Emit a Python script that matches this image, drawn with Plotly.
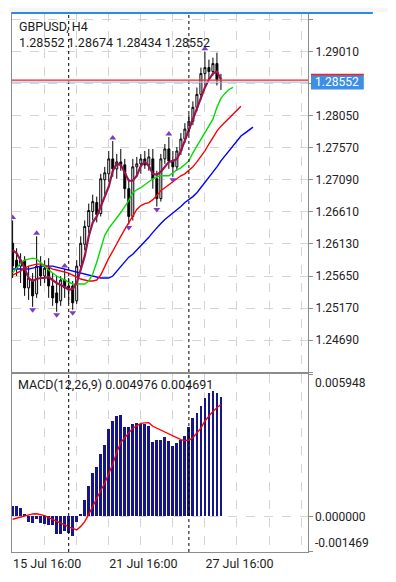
import plotly.graph_objects as go

# ---------------- data ----------------
symbol_title = "GBPUSD, H4"
bars = list(range(53))

opens = [1.26140, 1.25887, 1.25798, 1.25887, 1.25472, 1.25590, 1.25383, 1.25798, 1.25650, 1.25768,
         1.25501, 1.25397, 1.25279, 1.25590, 1.25472, 1.25501, 1.25279, 1.25798, 1.26125, 1.26392,
         1.26615, 1.26749, 1.26585, 1.27090, 1.27179, 1.27402, 1.27253, 1.27357, 1.27313, 1.26957,
         1.26541, 1.27283, 1.27328, 1.27402, 1.27313, 1.27402, 1.27105, 1.26808, 1.27402, 1.27551,
         1.27372, 1.27283, 1.27521, 1.27699, 1.27848, 1.27966, 1.28174, 1.28367, 1.28679, 1.28768,
         1.28709, 1.28828, 1.28552]
highs = [1.26481, 1.26066, 1.25991, 1.25947, 1.25798, 1.25694, 1.26244, 1.25947, 1.25887, 1.25917,
         1.25694, 1.25650, 1.25650, 1.25754, 1.25620, 1.25576, 1.25887, 1.26244, 1.26481, 1.26734,
         1.26867, 1.26838, 1.27179, 1.27283, 1.27521, 1.27669, 1.27476, 1.27551, 1.27402, 1.27105,
         1.27402, 1.27432, 1.27476, 1.27521, 1.27551, 1.27551, 1.27224, 1.27476, 1.27625, 1.27729,
         1.27521, 1.27580, 1.27788, 1.27937, 1.28070, 1.28263, 1.28471, 1.28768, 1.29006, 1.28887,
         1.28917, 1.28991, 1.28674]
lows = [1.25620, 1.25650, 1.25546, 1.25353, 1.25293, 1.25189, 1.25323, 1.25501, 1.25546, 1.25323,
        1.25204, 1.25115, 1.25204, 1.25323, 1.25234, 1.25145, 1.25234, 1.25740, 1.26036, 1.26288,
        1.26481, 1.26452, 1.26541, 1.26867, 1.27060, 1.27135, 1.27105, 1.27224, 1.26808, 1.26422,
        1.26481, 1.27135, 1.27179, 1.27253, 1.27224, 1.26957, 1.26689, 1.26763, 1.27328, 1.27253,
        1.27135, 1.27224, 1.27461, 1.27640, 1.27758, 1.27907, 1.28115, 1.28293, 1.28501, 1.28590,
        1.28649, 1.28501, 1.28434]
closes = [1.25798, 1.25768, 1.25887, 1.25472, 1.25620, 1.25353, 1.25798, 1.25650, 1.25768, 1.25501,
          1.25323, 1.25249, 1.25590, 1.25472, 1.25501, 1.25249, 1.25798, 1.26140, 1.26392, 1.26630,
          1.26763, 1.26570, 1.27105, 1.27194, 1.27402, 1.27253, 1.27357, 1.27313, 1.26957, 1.26541,
          1.27283, 1.27328, 1.27402, 1.27313, 1.27432, 1.27105, 1.26808, 1.27402, 1.27551, 1.27372,
          1.27283, 1.27521, 1.27699, 1.27848, 1.27966, 1.28174, 1.28367, 1.28679, 1.28768, 1.28709,
          1.28828, 1.28590, 1.28552]

# short moving average (maroon)
ma_fast = [1.26036, 1.25991, 1.25887, 1.25768, 1.25620, 1.25576, 1.25605, 1.25620, 1.25620, 1.25635,
           1.25590, 1.25546, 1.25516, 1.25486, 1.25442, 1.25457, 1.25546, 1.25740, 1.25947, 1.26244,
           1.26452, 1.26541, 1.26689, 1.26838, 1.26986, 1.27224, 1.27328, 1.27313, 1.27194, 1.27075,
           1.27075, 1.27150, 1.27298, 1.27357, 1.27298, 1.27179, 1.27165, 1.27209, 1.27283, 1.27357,
           1.27372, 1.27402, 1.27521, 1.27684, 1.27848, 1.27996, 1.28174, 1.28337, 1.28471, 1.28590,
           1.28679, 1.28709, 1.28590]
# Alligator lines (shifted forward)
lips_green = [1.25694, 1.25768, 1.25843, 1.25887, 1.25902, 1.25917, 1.25902, 1.25857, 1.25798, 1.25740,
              1.25694, 1.25650, 1.25620, 1.25590, 1.25561, 1.25531, 1.25531, 1.25531, 1.25531, 1.25576,
              1.25679, 1.25857, 1.26066, 1.26259, 1.26362, 1.26437, 1.26526, 1.26600, 1.26689, 1.26778,
              1.26897, 1.26941, 1.26971, 1.27016, 1.27060, 1.27105, 1.27135, 1.27150, 1.27150, 1.27150,
              1.27194, 1.27239, 1.27268, 1.27313, 1.27372, 1.27491, 1.27595, 1.27684, 1.27788, 1.27892,
              1.27996, 1.28174, 1.28308, 1.28382, 1.28441, 1.28471]
teeth_red = [1.25665, 1.25694, 1.25724, 1.25768, 1.25798, 1.25813, 1.25828, 1.25828, 1.25813, 1.25783,
             1.25754, 1.25740, 1.25724, 1.25709, 1.25694, 1.25665, 1.25635, 1.25605, 1.25590, 1.25576,
             1.25576, 1.25590, 1.25665, 1.25798, 1.25917, 1.26021, 1.26140, 1.26244, 1.26348, 1.26452,
             1.26556, 1.26645, 1.26704, 1.26734, 1.26749, 1.26793, 1.26853, 1.26927, 1.26971, 1.27016,
             1.27060, 1.27105, 1.27150, 1.27179, 1.27224, 1.27283, 1.27357, 1.27432, 1.27521, 1.27625,
             1.27729, 1.27818, 1.27892, 1.27952, 1.28011, 1.28070, 1.28129, 1.28189]
jaw_blue = [1.25754, 1.25754, 1.25754, 1.25754, 1.25754, 1.25768, 1.25783, 1.25798, 1.25798, 1.25798,
            1.25798, 1.25783, 1.25768, 1.25754, 1.25740, 1.25724, 1.25709, 1.25694, 1.25679, 1.25665,
            1.25650, 1.25635, 1.25620, 1.25620, 1.25620, 1.25650, 1.25724, 1.25798, 1.25872, 1.25932,
            1.25976, 1.26036, 1.26095, 1.26154, 1.26229, 1.26303, 1.26377, 1.26437, 1.26496, 1.26541,
            1.26585, 1.26630, 1.26689, 1.26749, 1.26793, 1.26838, 1.26897, 1.26971, 1.27046, 1.27120,
            1.27194, 1.27283, 1.27372, 1.27446, 1.27521, 1.27610, 1.27684, 1.27744, 1.27788, 1.27833,
            1.27877]

fractal_up_bars = [0, 6, 13, 25, 39, 48]
fractal_down_bars = [5, 11, 15, 29, 36, 40]

macd_main = [0.00045, 0.00045, 0.00034, 0.00012, -0.00022, -0.00027, -0.00010, -0.00027, -0.00031, -0.00035,
             -0.00035, -0.00073, -0.00073, -0.00059, -0.00068, -0.00082, -0.00025, 0.00010, 0.00070, 0.00128,
             0.00183, 0.00208, 0.00259, 0.00300, 0.00367, 0.00397, 0.00421, 0.00423, 0.00372, 0.00372,
             0.00387, 0.00390, 0.00387, 0.00387, 0.00376, 0.00310, 0.00321, 0.00318, 0.00331, 0.00314,
             0.00296, 0.00307, 0.00321, 0.00335, 0.00372, 0.00411, 0.00431, 0.00462, 0.00494, 0.00517,
             0.00525, 0.00517, 0.004976]
macd_signal = [-0.00010, -0.00005, 0.00000, 0.00005, 0.00010, 0.00012, 0.00013, 0.00010, 0.00005, -0.00003,
               -0.00010, -0.00018, -0.00026, -0.00034, -0.00042, -0.00050, -0.00055, -0.00040, -0.00020, 0.00010,
               0.00045, 0.00080, 0.00110, 0.00140, 0.00180, 0.00220, 0.00270, 0.00310, 0.00330, 0.00350,
               0.00370, 0.00380, 0.00390, 0.00392, 0.00393, 0.00378, 0.00370, 0.00365, 0.00356, 0.00348,
               0.00338, 0.00330, 0.00322, 0.00318, 0.00320, 0.00330, 0.00350, 0.00370, 0.00400, 0.00420,
               0.00440, 0.00455, 0.004691]

bid_price = 1.28552
ask_price = 1.28582

price_grid = [1.24210, 1.24690, 1.25170, 1.25650, 1.26130, 1.26610, 1.27090, 1.27570, 1.28050, 1.28530, 1.29010, 1.29490]
price_labels = ["", "1.24690", "1.25170", "1.25650", "1.26130", "1.26610", "1.27090", "1.27570", "1.28050", "", "1.29010", ""]
macd_ticks = [0.005948, 0.0, -0.001469]
macd_labels = ["0.005948", "0.000000", "-0.001469"]
time_grid = [0, 8, 16, 24, 32, 40, 48, 56, 64, 72]
time_labels = ["15 Jul 16:00", "", "", "21 Jul 16:00", "", "", "27 Jul 16:00", "", "", ""]
separator_bars = [14, 44]

ohlc_text = "%.5f %.5f %.5f %.5f" % (opens[-1], highs[-1], lows[-1], closes[-1])
macd_text = "MACD(12,26,9) %.6f %.6f" % (macd_main[-1], macd_signal[-1])

# ---------------- figure ----------------
FONT = "Roboto, 'Noto Sans', sans-serif"
GRID = "#d4d4d4"
AXIS = "#8c8c8c"
fig = go.Figure()

fig.add_trace(go.Candlestick(
    x=bars, open=opens, high=highs, low=lows, close=closes,
    increasing=dict(line=dict(color="black", width=1), fillcolor="white"),
    decreasing=dict(line=dict(color="black", width=1), fillcolor="black"),
    whiskerwidth=0, xaxis="x", yaxis="y", hoverinfo="skip"))

for series, col, w in [(jaw_blue, "#0000ff", 1.4), (teeth_red, "#ff0000", 1.4),
                       (lips_green, "#00dd00", 1.4), (ma_fast, "#991450", 2.2)]:
    fig.add_trace(go.Scatter(x=list(range(len(series))), y=series, mode="lines",
                             line=dict(color=col, width=w), xaxis="x", yaxis="y",
                             hoverinfo="skip"))

frac_off = 0.00045
fig.add_trace(go.Scatter(x=fractal_up_bars, y=[highs[i] + frac_off for i in fractal_up_bars],
                         mode="markers", marker=dict(symbol="triangle-up", size=6, color="#7a3cc8"),
                         xaxis="x", yaxis="y", hoverinfo="skip"))
fig.add_trace(go.Scatter(x=fractal_down_bars, y=[lows[i] - frac_off for i in fractal_down_bars],
                         mode="markers", marker=dict(symbol="triangle-down", size=6, color="#7a3cc8"),
                         xaxis="x", yaxis="y", hoverinfo="skip"))

fig.add_trace(go.Bar(x=bars, y=macd_main, width=0.45, marker=dict(color="#15158c", line=dict(width=0)),
                     xaxis="x2", yaxis="y2", hoverinfo="skip"))
fig.add_trace(go.Scatter(x=bars, y=macd_signal, mode="lines", line=dict(color="#ff0000", width=1.4),
                         xaxis="x2", yaxis="y2", hoverinfo="skip"))

# the page body adds an 8px offset, so the figure is made 16px smaller
# and the plot box (11..308 x 13..556 in page pixels) is placed accordingly
OFF = 8
W, H = 396 - 2 * OFF, 582 - 2 * OFF
PL, PR, PT, PB = 11, 308, 13, 556  # plot box in page pixels
L, R, T, B = PL - OFF, W - (PR - OFF), PT - OFF, H - (PB - OFF)
pw, ph = PR - PL, PB - PT

def px_x(x):
    return (x - PL) / pw

def px_y(y):
    return (PB - y) / ph

xr = [-0.15, 73.73]
common_x = dict(range=xr, tickvals=time_grid, showgrid=True, gridcolor=GRID, griddash="dash",
                gridwidth=1, showline=True, mirror=True, linecolor=AXIS, linewidth=1,
                zeroline=False, ticks="", fixedrange=True)

fig.update_layout(
    width=W, height=H, margin=dict(l=L, r=R, t=T, b=B),
    paper_bgcolor="white", plot_bgcolor="white", showlegend=False,
    font=dict(family=FONT, size=12, color="#222222"),
    bargap=0,
    xaxis=dict(domain=[0, 1], anchor="y", showticklabels=False, rangeslider=dict(visible=False), **common_x),
    xaxis2=dict(domain=[0, 1], anchor="y2", showticklabels=True, ticktext=time_labels,
                ticklabelposition="outside right", tickfont=dict(size=12.5, color="#222222"), **common_x),
    yaxis=dict(domain=[px_y(375), 1], range=[1.24209, 1.29585], side="right", anchor="x",
               tickvals=price_grid, ticktext=price_labels, showgrid=True, gridcolor=GRID,
               griddash="dash", showline=True, mirror=True, linecolor=AXIS, linewidth=1,
               ticks="outside", ticklen=4, tickcolor=AXIS, zeroline=False, fixedrange=True,
               tickfont=dict(size=12, color="#222222")),
    yaxis2=dict(domain=[0, px_y(377)], range=[-0.001469, 0.005948], side="right", anchor="x2",
                tickvals=macd_ticks, showticklabels=False, showgrid=True, gridcolor=GRID,
                griddash="dash", showline=True, mirror=True, linecolor=AXIS, linewidth=1,
                ticks="outside", ticklen=4, tickcolor=AXIS, zeroline=False, fixedrange=True),
)

shapes = []
# light band at top and blue top line
shapes.append(dict(type="rect", xref="paper", yref="paper", x0=px_x(OFF), x1=px_x(W + OFF),
                   y0=px_y(12), y1=px_y(OFF), fillcolor="#f5f5f5", line=dict(width=0), layer="below"))
shapes.append(dict(type="line", xref="paper", yref="paper", x0=px_x(11), x1=px_x(373), y0=px_y(13), y1=px_y(13),
                   line=dict(color="#2b8ae8", width=2)))
# week separators
for s in separator_bars:
    shapes.append(dict(type="line", xref="x", yref="paper", x0=s, x1=s, y0=0, y1=px_y(14),
                       line=dict(color="black", width=1, dash="3px,3px")))
# bid / ask lines
shapes.append(dict(type="line", xref="paper", yref="y", x0=0, x1=1, y0=bid_price, y1=bid_price,
                   line=dict(color="#9cc9f0", width=1.2)))
shapes.append(dict(type="line", xref="paper", yref="y", x0=0, x1=1, y0=ask_price, y1=ask_price,
                   line=dict(color="#ff1a1a", width=1.2)))
# current price box
box_h = 0.00112
shapes.append(dict(type="rect", xref="paper", yref="y", x0=px_x(311), x1=px_x(364),
                   y0=bid_price - box_h, y1=bid_price + box_h, fillcolor="#3d8fe6", line=dict(width=0)))
shapes.append(dict(type="line", xref="paper", yref="y", x0=px_x(311), x1=px_x(364),
                   y0=bid_price + box_h, y1=bid_price + box_h, line=dict(color="#ff1a1a", width=1.5)))
fig.update_layout(shapes=shapes)

ann = [
    dict(text=symbol_title, xref="paper", yref="paper", x=px_x(16), y=px_y(27), xanchor="left",
         yanchor="middle", showarrow=False, font=dict(size=12.5, color="#1a1a1a")),
    dict(text=ohlc_text, xref="paper", yref="paper", x=px_x(16), y=px_y(43), xanchor="left",
         yanchor="middle", showarrow=False, font=dict(size=12.5, color="#1a1a1a")),
    dict(text=macd_text, xref="paper", yref="paper", x=px_x(15), y=px_y(387), xanchor="left",
         yanchor="middle", showarrow=False, font=dict(size=12.5, color="#1a1a1a")),
    dict(text="%.5f" % bid_price, xref="paper", yref="y", x=px_x(313), y=bid_price, xanchor="left",
         yanchor="middle", showarrow=False, font=dict(size=12, color="white")),
]
for v, t, anc in zip(macd_ticks, macd_labels, ["top", "middle", "bottom"]):
    ann.append(dict(text=t, xref="paper", yref="y2", x=px_x(313), y=v, xanchor="left", yanchor=anc,
                    showarrow=False, font=dict(size=12, color="#222222")))
fig.update_layout(annotations=ann)

fig.write_html("out.html")
